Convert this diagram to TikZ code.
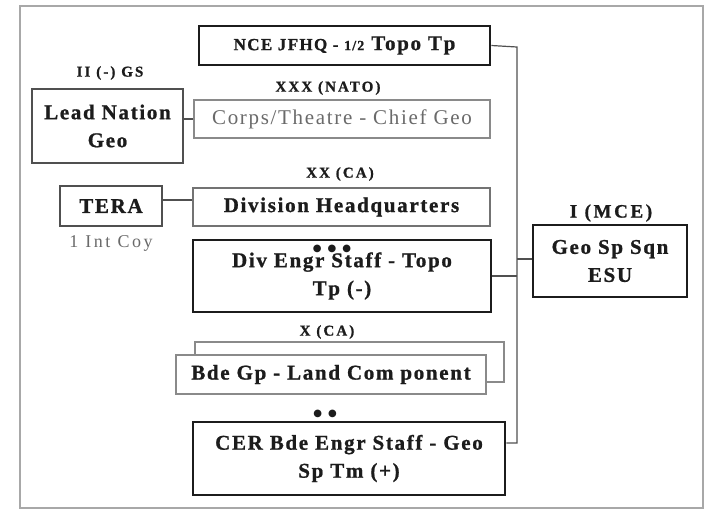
\documentclass[tikz,border=0pt]{standalone}
\usepackage{fontspec}
\setmainfont{Liberation Serif}[LetterSpace=8, BoldFeatures={FakeBold=1}]
\newfontfamily\labelfont{Liberation Serif}[LetterSpace=14, BoldFeatures={FakeBold=1}]
\newfontfamily\dotfont{DejaVu Sans}
\definecolor{ink}{HTML}{1C1C1C}
\definecolor{greyline}{HTML}{8A8A8A}
\definecolor{darkline}{HTML}{505050}
\definecolor{midline}{HTML}{737373}
\definecolor{greytext}{HTML}{6A6A6A}
\definecolor{framecol}{HTML}{A8A8A8}
\begin{document}
\begin{tikzpicture}[x=1pt,y=-1pt,
  every node/.style={inner sep=0pt, align=center, text=ink,
    font=\bfseries\fontsize{21}{28}\selectfont},
  heavy/.style={draw=ink, line width=2.6pt},
  plain/.style={draw=#1, line width=1.4pt, fill=white},
  link/.style={draw=darkline, line width=1.2pt},
  echelon/.style={font=\labelfont\bfseries\fontsize{#1}{#1}\selectfont},
  note/.style={font=\labelfont\fontsize{18}{18}\selectfont, text=greytext},
  dots/.style={font=\dotfont\fontsize{10}{10}\selectfont}
]
\useasboundingbox (0,0) rectangle (706,512);
\draw[framecol, line width=1.6pt] (20,6) rectangle (703,508);

% command chain boxes
\node[heavy, minimum width=291, minimum height=39] (nce) at (344.5,45.5)
  {{\fontsize{17}{18}\selectfont NCE JFHQ - {\fontsize{14}{18}\selectfont 1/2}}\hspace{7pt}Topo Tp};
\node[plain=greyline, minimum width=296, minimum height=38, text=greytext,
  font=\fontsize{21}{28}\selectfont] (corps) at (342,119) {Corps/Theatre - Chief Geo};
\node[plain=darkline, minimum width=151, minimum height=74] (lead) at (107.5,126) {Lead Nation\\Geo};
\node[plain=darkline, minimum width=102, minimum height=40] (tera) at (111,206) {TERA};
\node[plain=midline, minimum width=297, minimum height=38] (div) at (341.5,207) {Division Headquarters};
\node[heavy, minimum width=298, minimum height=72] (divengr) at (342,276) {Div Engr Staff - Topo\\Tp (-)};
\node[heavy, minimum width=154, minimum height=72] (geo) at (610,261) {Geo Sp Sqn\\ESU};
\node[plain=greyline, minimum width=309, minimum height=40] (bdeback) at (349.5,362) {};
\node[plain=greyline, minimum width=310, minimum height=39] (bde) at (331,374.5) {Bde Gp - Land Com ponent};
\node[heavy, minimum width=312, minimum height=73] (cer) at (349,458.5) {CER Bde Engr Staff - Geo\\Sp Tm (+)};

% echelon labels
\node[echelon=15] (lblgs) at (110,73) {II (-) GS};
\node[echelon=15] (lblxxx) at (328,88) {XXX (NATO)};
\node[echelon=15] (lblxx) at (340,174) {XX (CA)};
\node[echelon=15] (lblx) at (327,332) {X (CA)};
\node[echelon=19] (lblmce) at (611,213) {I (MCE)};
\node[note] (lblcoy) at (111,243) {1 Int Coy};
\node[dots] (dots3) at (332,249) {●\hspace{6pt}●\hspace{6pt}●};
\node[dots] (dots2) at (325,414) {●\hspace{6pt}●};

% connectors
\coordinate (bus) at (517,47);
\draw[link] (nce.east) -- (bus) |- ([yshift=15.5pt]cer.east);
\draw[link] (divengr.east) -- (divengr.east -| bus);
\draw[link] ([yshift=2pt]geo.west) -- ([yshift=2pt]geo.west -| bus);
\draw[link] (corps.west) -- (corps.west -| lead.east);
\draw[link] ([yshift=6pt]tera.east) -- ([yshift=6pt]tera.east -| div.west);
\end{tikzpicture}
\end{document}
